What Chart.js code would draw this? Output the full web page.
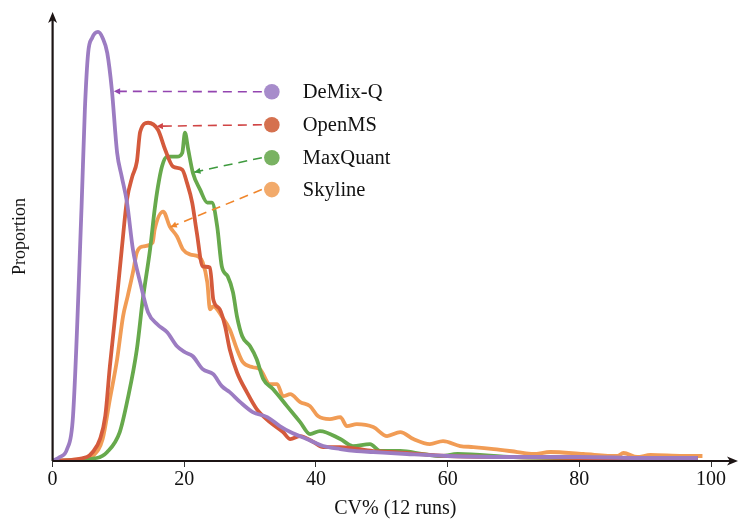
<!DOCTYPE html>
<html>
<head>
<meta charset="utf-8">
<script src="https://cdn.jsdelivr.net/npm/chart.js@4.4.0/dist/chart.umd.min.js"></script>
<style>
  html, body { margin: 0; padding: 0; background: #fff; }
  #wrap { width: 739px; height: 520px; }
</style>
</head>
<body>
<div id="wrap"><canvas id="myChart"></canvas></div>
<script>
// series (CV% on x, proportion in % on y)
const seriesNames = ['DeMix-Q', 'OpenMS', 'MaxQuant', 'Skyline'];

const demixX = [0, 1.1, 2.2, 3.1, 4.4, 4.9, 5.4, 6.0, 6.9, 7.6, 8.3, 9.0, 9.8, 10.5, 11.3, 12.2, 13.3, 14.5, 15.9, 17.4,
  18.9, 20.1, 21.3, 22.8, 24.4, 25.7, 26.9, 28.5, 30.4, 32.6, 34.5, 36.1, 38.6, 41.1, 43.7, 46.2, 48.7, 53.8, 60, 70, 80, 90, 98];
const demixY = [0, 0.08, 0.24, 0.9, 5.1, 7.04, 8.18, 8.48, 8.6, 8.48, 8.18, 7.44, 6.18, 5.7, 5.18, 4.24, 3.58, 2.98, 2.74, 2.58,
  2.3, 2.18, 2.1, 1.84, 1.74, 1.5, 1.38, 1.18, 0.98, 0.88, 0.7, 0.58, 0.44, 0.3, 0.24, 0.2, 0.18, 0.14, 0.1, 0.08, 0.08, 0.06, 0.06];

const openmsX = [0, 5.2, 6.1, 7.2, 8.0, 8.7, 9.5, 10.5, 11.3, 12.1, 12.8, 13.3, 14.5, 16.0, 17.1, 18.3, 19.7, 20.4, 21.2, 21.9,
  22.8, 23.9, 24.4, 25.4, 26.2, 26.9, 28.0, 29.5, 31.0, 33.0, 35.0, 36.1, 37.6, 39.6, 41.1, 43.7, 48.7, 51.3, 60, 70, 80, 90, 98];
const openmsY = [0, 0.08, 0.18, 0.44, 0.9, 1.9, 2.9, 4.24, 5.24, 5.7, 6.0, 6.6, 6.78, 6.64, 6.24, 5.9, 5.84, 5.58, 5.18, 4.58,
  3.9, 3.88, 3.24, 3.04, 2.7, 2.24, 1.78, 1.38, 1.04, 0.78, 0.58, 0.44, 0.5, 0.38, 0.28, 0.28, 0.2, 0.18, 0.1, 0.08, 0.06, 0.06, 0.06];

const maxquantX = [0, 6.7, 8.3, 10.2, 11.4, 12.8, 13.7, 14.8, 15.5, 16.0, 16.6, 17.4, 18.9, 19.7, 20.1, 20.6, 21.3, 22.4, 23.5, 24.2,
  25.0, 25.7, 26.6, 27.4, 28.0, 28.8, 30.0, 31.0, 32.0, 33.5, 35.6, 37.6, 39.1, 40.6, 43.7, 45.6, 48.2, 49.8, 52.8, 56.3,
  58.9, 61.5, 70, 80, 90, 98];
const maxquantY = [0, 0.06, 0.18, 0.58, 1.24, 2.24, 3.24, 4.24, 5.04, 5.5, 5.9, 6.1, 6.1, 6.18, 6.58, 6.24, 5.78, 5.44, 5.18, 5.18,
  4.7, 3.9, 3.7, 3.38, 2.9, 2.5, 2.3, 2.04, 1.64, 1.44, 1.1, 0.78, 0.54, 0.6, 0.44, 0.3, 0.34, 0.2, 0.2, 0.14,
  0.1, 0.14, 0.08, 0.06, 0.06, 0.06];

const skylineX = [0, 5.2, 6.1, 7.6, 8.7, 9.8, 10.7, 11.4, 12.2, 12.8, 13.7, 15.2, 15.5, 16.8, 17.8, 18.9, 19.8, 20.9, 22.1, 22.8,
  23.5, 23.9, 24.4, 25.7, 26.9, 28.0, 28.9, 30.4, 31.5, 33.0, 34.1, 35.0, 36.1, 37.6, 39.1, 40.3, 42.1, 43.7, 44.7, 46.2,
  48.7, 50.8, 52.8, 54.8, 57.3, 59.3, 61.9, 63.9, 67.0, 70.6, 73.0, 75.6, 80.6, 85.8, 86.7, 88.8, 90.8, 95.8, 98.7];
const skylineY = [0, 0.06, 0.1, 0.44, 1.24, 2.04, 2.9, 3.3, 3.78, 4.18, 4.3, 4.38, 4.64, 5.0, 4.7, 4.5, 4.24, 4.14, 4.1, 3.98,
  3.58, 3.04, 3.1, 2.9, 2.64, 2.24, 1.98, 1.88, 1.84, 1.54, 1.54, 1.3, 1.34, 1.18, 1.1, 0.9, 0.84, 0.88, 0.7, 0.74,
  0.68, 0.5, 0.58, 0.44, 0.34, 0.4, 0.3, 0.28, 0.24, 0.18, 0.14, 0.18, 0.14, 0.1, 0.16, 0.08, 0.12, 0.1, 0.1];

const xTicks = [0, 20, 40, 60, 80, 100];

const lineColors = ['#9c7cc2', '#d45a3c', '#67a94c', '#f19c55'];
const dotColors = ['#a78ccb', '#d5714f', '#79b262', '#f2aa6b'];
const arrowColors = ['#9345b0', '#d04545', '#3e9a3e', '#f0862c'];

const serif = '"Liberation Serif", "Times New Roman", serif';

function pairs(xs, ys) {
  return xs.map((v, i) => ({ x: v, y: ys[i] }));
}

// dashed arrows from the labelled dots to the curves, plus the arrowed axes
const callouts = {
  id: 'callouts',
  afterDatasetsDraw(chart, args, opts) {
    const { ctx, chartArea: a, scales: { x, y } } = chart;
    ctx.save();

    // axes
    ctx.strokeStyle = '#1c1414';
    ctx.fillStyle = '#1c1414';
    ctx.lineWidth = 2.2;
    ctx.beginPath();
    ctx.moveTo(a.left, a.bottom);
    ctx.lineTo(a.right - 6, a.bottom);
    ctx.moveTo(a.left, a.bottom);
    ctx.lineTo(a.left, a.top + 6);
    ctx.stroke();
    ctx.beginPath();
    ctx.moveTo(a.right, a.bottom);
    ctx.lineTo(a.right - 11, a.bottom - 4.5);
    ctx.lineTo(a.right - 8, a.bottom);
    ctx.lineTo(a.right - 11, a.bottom + 4.5);
    ctx.closePath();
    ctx.fill();
    ctx.beginPath();
    ctx.moveTo(a.left, a.top);
    ctx.lineTo(a.left - 4.5, a.top + 11);
    ctx.lineTo(a.left, a.top + 8);
    ctx.lineTo(a.left + 4.5, a.top + 11);
    ctx.closePath();
    ctx.fill();

    const dx = x.getPixelForValue(opts.dotX);
    const lx = x.getPixelForValue(opts.labelX);
    opts.items.forEach((it, i) => {
      const dy = y.getPixelForValue(it.dotY);
      const tx = x.getPixelForValue(it.tipX);
      const ty = y.getPixelForValue(it.tipY);
      const sx = dx - 10;
      ctx.strokeStyle = arrowColors[i];
      ctx.fillStyle = arrowColors[i];
      ctx.lineWidth = 1.6;
      ctx.setLineDash([9, 6]);
      ctx.beginPath();
      ctx.moveTo(sx, dy);
      ctx.lineTo(tx, ty);
      ctx.stroke();
      ctx.setLineDash([]);
      const ang = Math.atan2(ty - dy, tx - sx);
      ctx.beginPath();
      ctx.moveTo(tx, ty);
      ctx.lineTo(tx - 7 * Math.cos(ang - 0.45), ty - 7 * Math.sin(ang - 0.45));
      ctx.lineTo(tx - 7 * Math.cos(ang + 0.45), ty - 7 * Math.sin(ang + 0.45));
      ctx.closePath();
      ctx.fill();

      ctx.fillStyle = dotColors[i];
      ctx.beginPath();
      ctx.arc(dx, dy, 7.8, 0, Math.PI * 2);
      ctx.fill();

      ctx.fillStyle = '#111';
      ctx.font = '20.5px ' + serif;
      ctx.textBaseline = 'middle';
      ctx.textAlign = 'left';
      ctx.fillText(seriesNames[i], lx, dy + 1);
    });
    ctx.restore();
  }
};

const ctx = document.getElementById('myChart').getContext('2d');
const myChart = new Chart(ctx, {
  type: 'line',
  data: {
    datasets: [
      { label: seriesNames[0], data: pairs(demixX, demixY), borderColor: lineColors[0] },
      { label: seriesNames[1], data: pairs(openmsX, openmsY), borderColor: lineColors[1] },
      { label: seriesNames[2], data: pairs(maxquantX, maxquantY), borderColor: lineColors[2] },
      { label: seriesNames[3], data: pairs(skylineX, skylineY), borderColor: lineColors[3] }
    ]
  },
  options: {
    responsive: true,
    maintainAspectRatio: false,
    animation: false,
    layout: { padding: { left: 5, top: 12, right: 1, bottom: 0 } },
    elements: {
      point: { radius: 0 },
      line: { borderWidth: 3.8, cubicInterpolationMode: 'monotone', fill: false }
    },
    plugins: {
      legend: { display: false },
      tooltip: { enabled: false },
      callouts: {
        dotX: 33.3,
        labelX: 38.0,
        items: [
          { dotY: 7.4, tipX: 9.3, tipY: 7.41 },
          { dotY: 6.74, tipX: 15.8, tipY: 6.71 },
          { dotY: 6.08, tipX: 21.5, tipY: 5.79 },
          { dotY: 5.44, tipX: 17.9, tipY: 4.69 }
        ]
      }
    },
    scales: {
      x: {
        type: 'linear',
        min: 0,
        max: 104.1,
        afterBuildTicks: (s) => { s.ticks = xTicks.map(v => ({ value: v })); },
        ticks: { font: { family: serif, size: 20 }, color: '#111', padding: 1, maxRotation: 0, autoSkip: false },
        grid: { display: true, drawOnChartArea: false, drawTicks: true, tickLength: 6, tickColor: '#333', tickWidth: 1 },
        border: { display: false },
        title: {
          display: true,
          text: 'CV% (12 runs)',
          color: '#111',
          font: { family: serif, size: 20 },
          padding: { top: 4, bottom: -1 }
        }
      },
      y: {
        min: 0,
        max: 9,
        ticks: { display: false },
        grid: { display: false, drawTicks: false },
        border: { display: false },
        title: {
          display: true,
          text: 'Proportion',
          color: '#111',
          font: { family: serif, size: 18 },
          padding: { top: 4, bottom: 22 }
        }
      }
    }
  },
  plugins: [callouts]
});
</script>
</body>
</html>
